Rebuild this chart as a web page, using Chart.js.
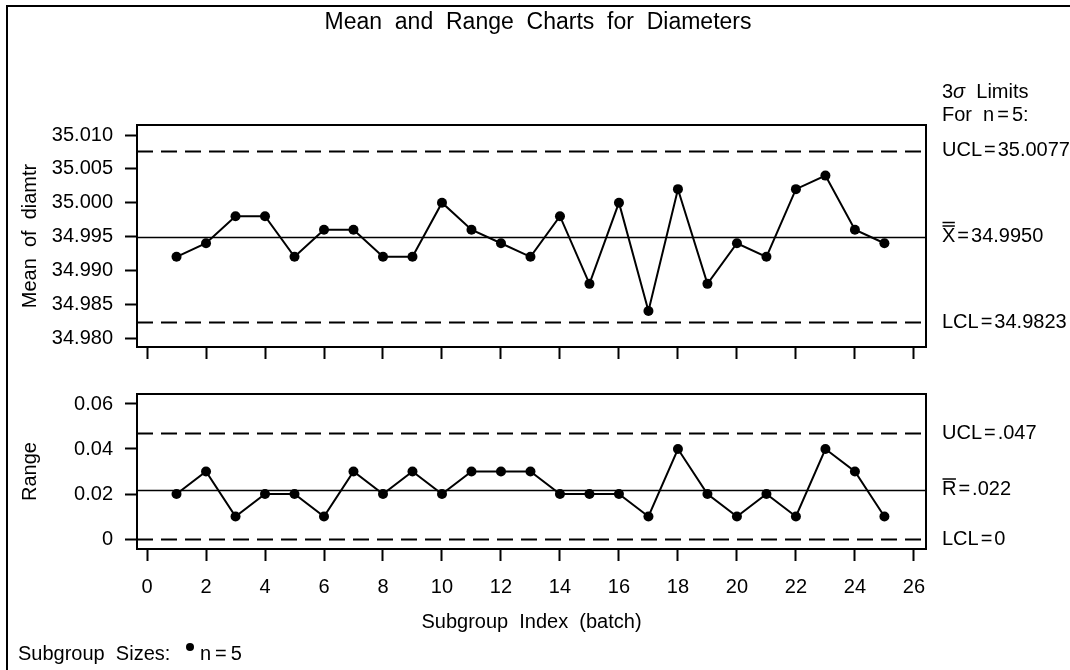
<!DOCTYPE html>
<html>
<head>
<meta charset="utf-8">
<script src="https://cdn.jsdelivr.net/npm/chart.js@4"></script>
<style>
  html, body { margin: 0; padding: 0; background: #fff; }
  #wrap { position: relative; width: 1070px; height: 670px; overflow: hidden; }
  canvas { position: absolute; left: 0; top: 0; }
</style>
</head>
<body>
<div id="wrap">
  <canvas id="meanChart" width="1070" height="670"></canvas>
  <canvas id="rangeChart" width="1070" height="670"></canvas>
</div>
<script>
// data
const batch = [1, 2, 3, 4, 5, 6, 7, 8, 9, 10, 11, 12, 13, 14, 15, 16, 17, 18, 19, 20, 21, 22, 23, 24, 25];
const meanDiam = [34.992, 34.994, 34.998, 34.998, 34.992, 34.996, 34.996, 34.992, 34.992, 35.000,
                  34.996, 34.994, 34.992, 34.998, 34.988, 35.000, 34.984, 35.002, 34.988, 34.994,
                  34.992, 35.002, 35.004, 34.996, 34.994];
const rangeDiam = [0.02, 0.03, 0.01, 0.02, 0.02, 0.01, 0.03, 0.02, 0.03, 0.02,
                   0.03, 0.03, 0.03, 0.02, 0.02, 0.02, 0.01, 0.04, 0.02, 0.01,
                   0.02, 0.01, 0.04, 0.03, 0.01];
const batchTicks = [0, 2, 4, 6, 8, 10, 12, 14, 16, 18, 20, 22, 24, 26];
const meanTicks = [34.980, 34.985, 34.990, 34.995, 35.000, 35.005, 35.010];
const rangeTicks = [0, 0.02, 0.04, 0.06];
const meanLimits = [35.0077, 34.9950, 34.9823];
const meanLimitText = [["UCL", "35.0077"], ["X", "34.9950"], ["LCL", "34.9823"]];
const rangeLimits = [0.047, 0.022, 0];
const rangeLimitText = [["UCL", ".047"], ["R", ".022"], ["LCL", "0"]];

const FONT = "'Liberation Sans', Arial, Helvetica, sans-serif";
Chart.defaults.font.family = FONT;
Chart.defaults.font.size = 20;
Chart.defaults.color = "#000";

// draws "left = right" with small gaps round the equals sign
function drawEq(ctx, left, right, x, y, gap) {
  ctx.fillText(left, x, y);
  let w = ctx.measureText(left).width + gap;
  ctx.fillText("=", x + w, y);
  w += ctx.measureText("=").width + gap;
  ctx.fillText(right, x + w, y);
}

// control limit lines, panel box and the limit labels on the right
const controlLines = {
  id: "controlLines",
  beforeDatasetsDraw(chart, args, opts) {
    const { ctx, chartArea: a, scales: { y } } = chart;
    ctx.save();
    ctx.strokeStyle = "#000";
    opts.limits.forEach((v, i) => {
      const py = Math.round(y.getPixelForValue(v)) + 0.5;
      ctx.lineWidth = i === 1 ? 1.5 : 2;
      ctx.setLineDash(i === 1 ? [] : [16, 8]);
      ctx.beginPath();
      ctx.moveTo(a.left, py);
      ctx.lineTo(a.right, py);
      ctx.stroke();
    });
    ctx.restore();
  },
  afterDraw(chart, args, opts) {
    const { ctx, chartArea: a, scales: { y } } = chart;
    ctx.save();
    ctx.strokeStyle = "#000";
    ctx.lineWidth = 2;
    ctx.strokeRect(a.left, a.top, a.right - a.left, a.bottom - a.top);

    ctx.fillStyle = "#000";
    ctx.font = "20px " + FONT;
    ctx.textBaseline = "middle";
    ctx.textAlign = "left";
    const x0 = a.right + 16;
    opts.limits.forEach((v, i) => {
      const py = y.getPixelForValue(v);
      const [left, right] = opts.text[i];
      drawEq(ctx, left, right, x0, py, 2);
      if (i === 1) {
        const w = ctx.measureText(left).width;
        ctx.lineWidth = 1.5;
        for (let b = 0; b < opts.bars; b++) {
          const by = py - 10.5 - b * 3.5;
          ctx.beginPath();
          ctx.moveTo(x0 + 0.5, by);
          ctx.lineTo(x0 + w - 0.5, by);
          ctx.stroke();
        }
      }
    });
    ctx.restore();
  }
};

// page title, outer frame, limit heading and subgroup-size note
const pageText = {
  id: "pageText",
  afterDraw(chart) {
    const { ctx } = chart;
    ctx.save();
    ctx.strokeStyle = "#000";
    ctx.lineWidth = 2;
    ctx.beginPath();
    ctx.moveTo(7, 670);
    ctx.lineTo(7, 6);
    ctx.lineTo(1070, 6);
    ctx.stroke();

    ctx.fillStyle = "#000";
    ctx.textBaseline = "middle";
    ctx.textAlign = "center";
    ctx.font = "23px " + FONT;
    ctx.fillText("Mean  and  Range  Charts  for  Diameters", 538, 23);

    ctx.textAlign = "left";
    ctx.font = "20px " + FONT;
    let x = 942;
    ctx.fillText("3", x, 92);
    x += ctx.measureText("3").width;
    ctx.font = "italic 20px " + FONT;
    ctx.fillText("\u03c3", x, 92);
    x += ctx.measureText("\u03c3").width;
    ctx.font = "20px " + FONT;
    ctx.fillText("  Limits", x, 92);
    drawEq(ctx, "For  n", "5:", 942, 115, 3);

    ctx.fillText("Subgroup  Sizes:", 18, 654);
    ctx.beginPath();
    ctx.arc(190, 647, 4, 0, Math.PI * 2);
    ctx.fill();
    drawEq(ctx, "n", "5", 200, 654, 4);
    ctx.restore();
  }
};

function panelScales(yMin, yMax, yTicks, yFmt, yTitle, chartBottom, showX) {
  const tickGrid = { drawOnChartArea: false, tickLength: 12, tickWidth: 2, tickColor: "#000" };
  return {
    x: {
      type: "linear",
      min: -0.34,
      max: 26.41,
      afterBuildTicks: s => { s.ticks = batchTicks.map(v => ({ value: v })); },
      afterFit: s => { s.height = 670 - chartBottom; },
      ticks: { display: showX, padding: 14, maxRotation: 0 },
      grid: tickGrid,
      border: { display: false },
      title: { display: showX, text: "Subgroup  Index  (batch)", padding: { top: 0, bottom: 36 } }
    },
    y: {
      min: yMin,
      max: yMax,
      afterBuildTicks: s => { s.ticks = yTicks.map(v => ({ value: v })); },
      afterFit: s => { s.width = 137; },
      ticks: { padding: 12, callback: yFmt },
      grid: tickGrid,
      border: { display: false },
      title: { display: true, text: yTitle, padding: { top: 18, bottom: 0 } }
    }
  };
}

// ===== Mean chart =====
new Chart(document.getElementById("meanChart"), {
  type: "line",
  data: {
    datasets: [{
      data: batch.map((b, i) => ({ x: b, y: meanDiam[i] })),
      borderColor: "#000",
      borderWidth: 2,
      pointRadius: 5,
      pointBackgroundColor: "#000",
      pointBorderWidth: 0,
      tension: 0
    }]
  },
  options: {
    responsive: false,
    animation: false,
    events: [],
    layout: { padding: { top: 125, right: 144, bottom: 0, left: 0 } },
    plugins: {
      legend: { display: false },
      tooltip: { enabled: false },
      controlLines: { limits: meanLimits, text: meanLimitText, bars: 2 }
    },
    scales: panelScales(34.97867, 35.01148, meanTicks, v => v.toFixed(3), "Mean  of  diamtr", 347, false)
  },
  plugins: [controlLines, pageText]
});

// ===== Range chart =====
new Chart(document.getElementById("rangeChart"), {
  type: "line",
  data: {
    datasets: [{
      data: batch.map((b, i) => ({ x: b, y: rangeDiam[i] })),
      borderColor: "#000",
      borderWidth: 2,
      pointRadius: 5,
      pointBackgroundColor: "#000",
      pointBorderWidth: 0,
      tension: 0
    }]
  },
  options: {
    responsive: false,
    animation: false,
    events: [],
    layout: { padding: { top: 394, right: 144, bottom: 0, left: 0 } },
    plugins: {
      legend: { display: false },
      tooltip: { enabled: false },
      controlLines: { limits: rangeLimits, text: rangeLimitText, bars: 1 }
    },
    scales: panelScales(-0.00444, 0.06444, rangeTicks, v => (v === 0 ? "0" : v.toFixed(2)), "Range", 549, true)
  },
  plugins: [controlLines]
});
</script>
</body>
</html>
